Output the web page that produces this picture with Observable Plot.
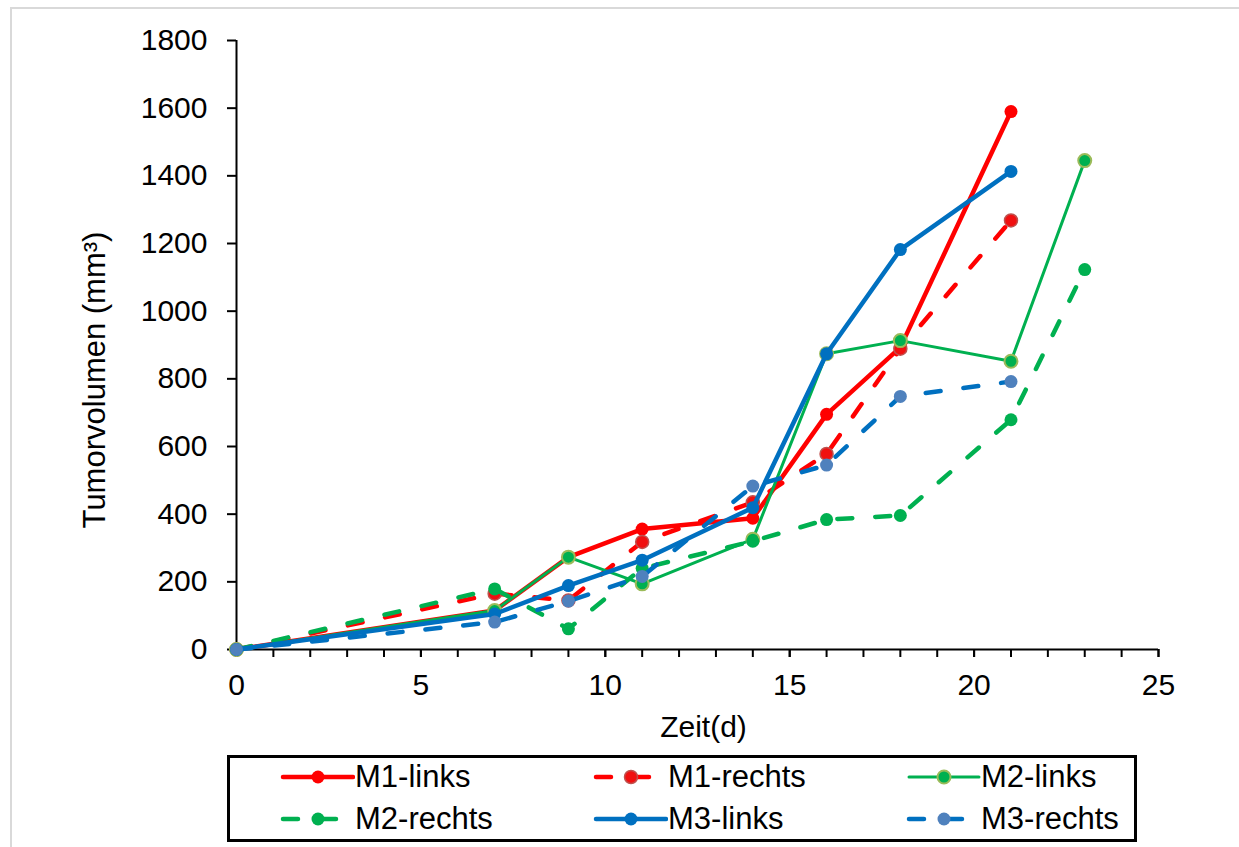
<!DOCTYPE html>
<html>
<head>
<meta charset="utf-8">
<script src="https://cdn.jsdelivr.net/npm/d3@7"></script>
<script src="https://cdn.jsdelivr.net/npm/@observablehq/plot@0.6"></script>
<style>
  html, body { margin: 0; padding: 0; background: #fff; }
  #wrap { position: relative; width: 1239px; height: 847px; overflow: hidden; font-family: "Liberation Sans", Arial, sans-serif; }
  #frame { position: absolute; left: 10px; top: 7px; width: 1300px; height: 900px; border-top: 2px solid #d9d9d9; border-left: 2px solid #d9d9d9; }
  #chart { position: absolute; left: 0; top: 0; }
  #legend { position: absolute; left: 227px; top: 755px; width: 904px; height: 81px; border: 3px solid #000; box-sizing: content-box; }
  .item { position: absolute; height: 40px; display: flex; align-items: center; }
  .item svg { display: block; }
  .item span { font-size: 31px; color: #000; margin-left: 0px; white-space: nowrap; }
</style>
</head>
<body>
<div id="wrap">
  <div id="frame"></div>
  <div id="chart"></div>
  <div id="legend"></div>
</div>
<script>
// ---- data ----
const seriesNames = ["M1-links", "M1-rechts", "M2-links", "M2-rechts", "M3-links", "M3-rechts"];
const days8 = [0, 7, 9, 11, 14, 16, 18, 21];
const days9 = [0, 7, 9, 11, 14, 16, 18, 21, 23];
const m1Links  = [0, 115, 273, 356, 388, 695, 893, 1590];
const m1Rechts = [0, 165, 145, 318, 435, 578, 889, 1268];
const m2Links  = [0, 115, 273, 194, 326, 874, 913, 852, 1445];
const m2Rechts = [0, 179, 61, 240, 320, 384, 396, 679, 1123];
const m3Links  = [0, 105, 189, 264, 419, 874, 1182, 1413];
const m3Rechts = [0, 81, 143, 216, 483, 545, 748, 792];
const yTicks = [0, 200, 400, 600, 800, 1000, 1200, 1400, 1600, 1800];
const xMajorTicks = [0, 5, 10, 15, 20, 25];
const xMinorTicks = d3.range(0, 26);
const xLabel = "Zeit(d)";
const yLabel = "Tumorvolumen (mm³)";

// ---- styles per series ----
const dash = "15,23";
const styles = {
  "M1-links":  {stroke: "#FF0000", width: 4.5, dash: null, fill: "#FF0000", ring: "#FF0000", ringW: 0},
  "M1-rechts": {stroke: "#FF0000", width: 4.5, dash: dash, fill: "#F01010", ring: "#C0504D", ringW: 1.5},
  "M2-links":  {stroke: "#00B050", width: 3,   dash: null, fill: "#00B050", ring: "#9BBB59", ringW: 2},
  "M2-rechts": {stroke: "#00B050", width: 4.5, dash: dash, fill: "#00B050", ring: "#00B050", ringW: 0},
  "M3-links":  {stroke: "#0070C0", width: 4.5, dash: null, fill: "#0070C0", ring: "#0070C0", ringW: 0},
  "M3-rechts": {stroke: "#0070C0", width: 4.5, dash: dash, fill: "#4F81BD", ring: "#4F81BD", ringW: 0}
};

const seriesData = [
  ["M1-links", days8, m1Links],
  ["M1-rechts", days8, m1Rechts],
  ["M2-links", days9, m2Links],
  ["M2-rechts", days9, m2Rechts],
  ["M3-links", days8, m3Links],
  ["M3-rechts", days8, m3Rechts]
].map(([name, xs, ys]) => ({name, rows: xs.map((x, i) => ({series: name, x, y: ys[i]}))}));

const seriesMarks = seriesData.flatMap(({name, rows}) => {
  const s = styles[name];
  return [
    Plot.line(rows, {x: "x", y: "y", stroke: s.stroke, strokeWidth: s.width,
      strokeDasharray: s.dash || undefined, strokeLinecap: "round", strokeLinejoin: "round"}),
    Plot.dot(rows, {x: "x", y: "y", r: 6.5, fill: s.fill, stroke: s.ring, strokeWidth: s.ringW})
  ];
});

const chart = Plot.plot({
  width: 1239,
  height: 760,
  marginLeft: 236,
  marginRight: 81,
  marginTop: 40,
  marginBottom: 111,
  x: {domain: [0, 25]},
  y: {domain: [0, 1800]},
  style: {fontFamily: "'Liberation Sans', Arial, sans-serif", fontSize: "30px", color: "#000", background: "transparent", overflow: "visible"},
  marks: [
    Plot.axisY({ticks: yTicks, tickSize: 9, tickPadding: 20, tickFormat: d => String(d), label: null, strokeWidth: 2, fontSize: 30}),
    Plot.axisX({ticks: xMinorTicks, tickSize: 8, tickFormat: () => "", label: null, strokeWidth: 2}),
    Plot.axisX({ticks: xMajorTicks, tickSize: 8, tickPadding: 16, tickFormat: d => String(d), label: null, strokeWidth: 2, fontSize: 30}),
    Plot.ruleY([0], {stroke: "#000", strokeWidth: 2}),
    Plot.ruleX([0], {stroke: "#000", strokeWidth: 2}),
    ...seriesMarks,
    Plot.text([yLabel], {frameAnchor: "left", dx: -141, dy: 35, rotate: -90, textAnchor: "middle", lineAnchor: "middle", fontSize: 31, fill: "#000"}),
    Plot.text([xLabel], {frameAnchor: "bottom", dy: 78, dx: 6, textAnchor: "middle", lineAnchor: "middle", fontSize: 30, fill: "#000"})
  ]
});
document.getElementById("chart").appendChild(chart);

// ---- legend (3 columns x 2 rows, built from series names/styles) ----
const legend = document.getElementById("legend");
const ns = "http://www.w3.org/2000/svg";
seriesNames.forEach((name, i) => {
  const s = styles[name];
  const col = i % 3, row = Math.floor(i / 3);
  const item = document.createElement("div");
  item.className = "item";
  item.style.left = (49 + col * 313) + "px";
  item.style.top = (-1 + row * 42) + "px";
  const svg = document.createElementNS(ns, "svg");
  svg.setAttribute("width", 76);
  svg.setAttribute("height", 40);
  const ln = document.createElementNS(ns, "line");
  ln.setAttribute("x1", 4); ln.setAttribute("x2", s.dash ? 72 : 74);
  ln.setAttribute("y1", 20); ln.setAttribute("y2", 20);
  ln.setAttribute("stroke", s.stroke);
  ln.setAttribute("stroke-width", s.width);
  ln.setAttribute("stroke-linecap", "round");
  if (s.dash) ln.setAttribute("stroke-dasharray", s.dash);
  svg.appendChild(ln);
  const c = document.createElementNS(ns, "circle");
  c.setAttribute("cx", 39); c.setAttribute("cy", 20); c.setAttribute("r", 6.5);
  c.setAttribute("fill", s.fill);
  c.setAttribute("stroke", s.ring);
  c.setAttribute("stroke-width", s.ringW);
  svg.appendChild(c);
  item.appendChild(svg);
  const span = document.createElement("span");
  span.textContent = name;
  item.appendChild(span);
  legend.appendChild(item);
});
</script>
</body>
</html>
